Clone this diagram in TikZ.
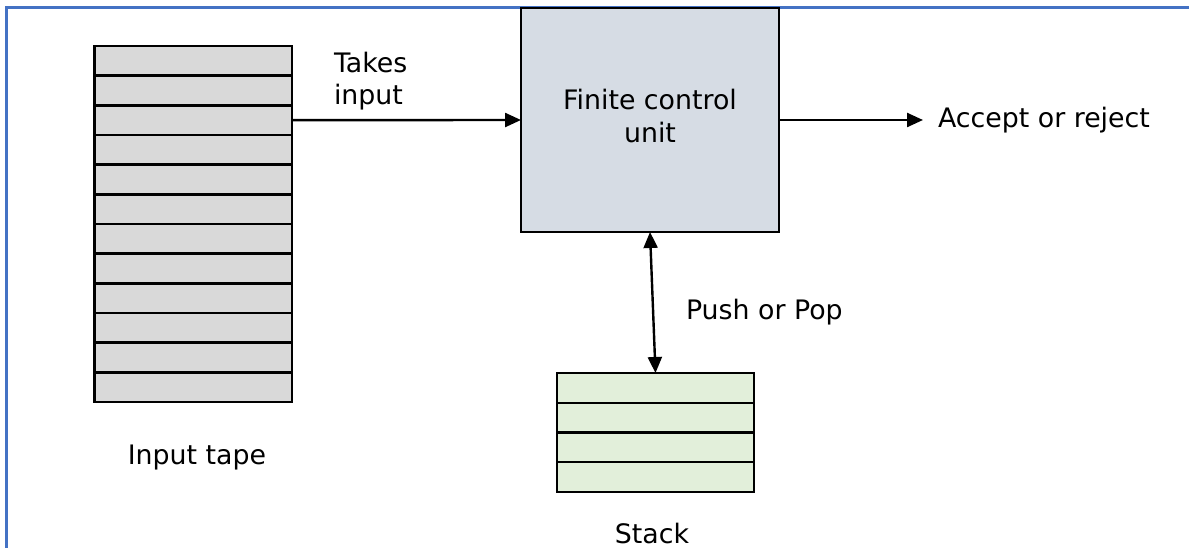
\documentclass[tikz,border=0pt]{standalone}
\usepackage{fontspec}
\setmainfont{DejaVu Sans}
\usetikzlibrary{arrows.meta,positioning}
\definecolor{frameblue}{HTML}{4472C4}
\definecolor{tapegray}{HTML}{D9D9D9}
\definecolor{fcublue}{HTML}{D6DCE4}
\definecolor{stackgreen}{HTML}{E2EFDA}
\tikzset{
  cell/.style={draw=black, line width=2.6pt, fill=tapegray, minimum width=197.5pt, minimum height=29.67pt, inner sep=0pt, outer sep=0pt},
  scell/.style={draw=black, line width=2.2pt, fill=stackgreen, minimum width=197pt, minimum height=29.75pt, inner sep=0pt, outer sep=0pt},
  fcubox/.style={draw=black, line width=2.2pt, fill=fcublue, minimum width=258pt, minimum height=224pt, inner sep=0pt, outer sep=0pt, align=center},
  lbl/.style={inner sep=0pt, outer sep=0pt, text depth=0pt},
  conn/.style={line width=2.4pt, -{Triangle[length=16pt,width=14pt]}},
  dconn/.style={line width=2.4pt, {Triangle[length=16pt,width=14pt]}-{Triangle[length=16pt,width=14pt]}},
  frame/.style={draw=frameblue, line width=3pt}
}
\begin{document}
\begin{tikzpicture}[x=1pt,y=-1pt,font=\fontsize{26.8}{33}\selectfont]
\useasboundingbox (0,0) rectangle (1189,548);
\draw[frame] (6,548) -- (6,8) -- (1189,8);
% input tape cells
\foreach \i in {1,...,12}{
  \node[cell] (t\i) at (193.25,{46+29.67*(\i-0.5)}) {};
}
% stack cells
\foreach \i in {1,...,4}{
  \node[scell] (s\i) at (655.5,{373+29.75*(\i-0.5)}) {};
}
% finite control unit
\node[fcubox] (fcu) at (650,120) {};
\node[lbl, anchor=base] (fcutext1) at (650,110) {Finite control};
\node[lbl, anchor=base] (fcutext2) at (650,143) {unit};
% labels
\node[lbl, anchor=base west] (takes) at (334,73) {Takes};
\node[lbl, anchor=base west] (input) at (334,105) {input};
\node[lbl, anchor=base west] (accept) at (938,128) {Accept or reject};
\node[lbl, anchor=base west] (push) at (686,319) {Push or Pop};
\node[lbl, anchor=base] (tapelbl) at (197,464) {Input tape};
\node[lbl, anchor=base] (stacklbl) at (652,543) {Stack};
\coordinate (acc) at (923,120);
% connectors
\draw[conn] (t3.east) -- (fcu.west);
\draw[conn] (fcu.east) -- (acc);
\draw[dconn] (fcu.south) -- (s1.north);
\end{tikzpicture}
\end{document}
